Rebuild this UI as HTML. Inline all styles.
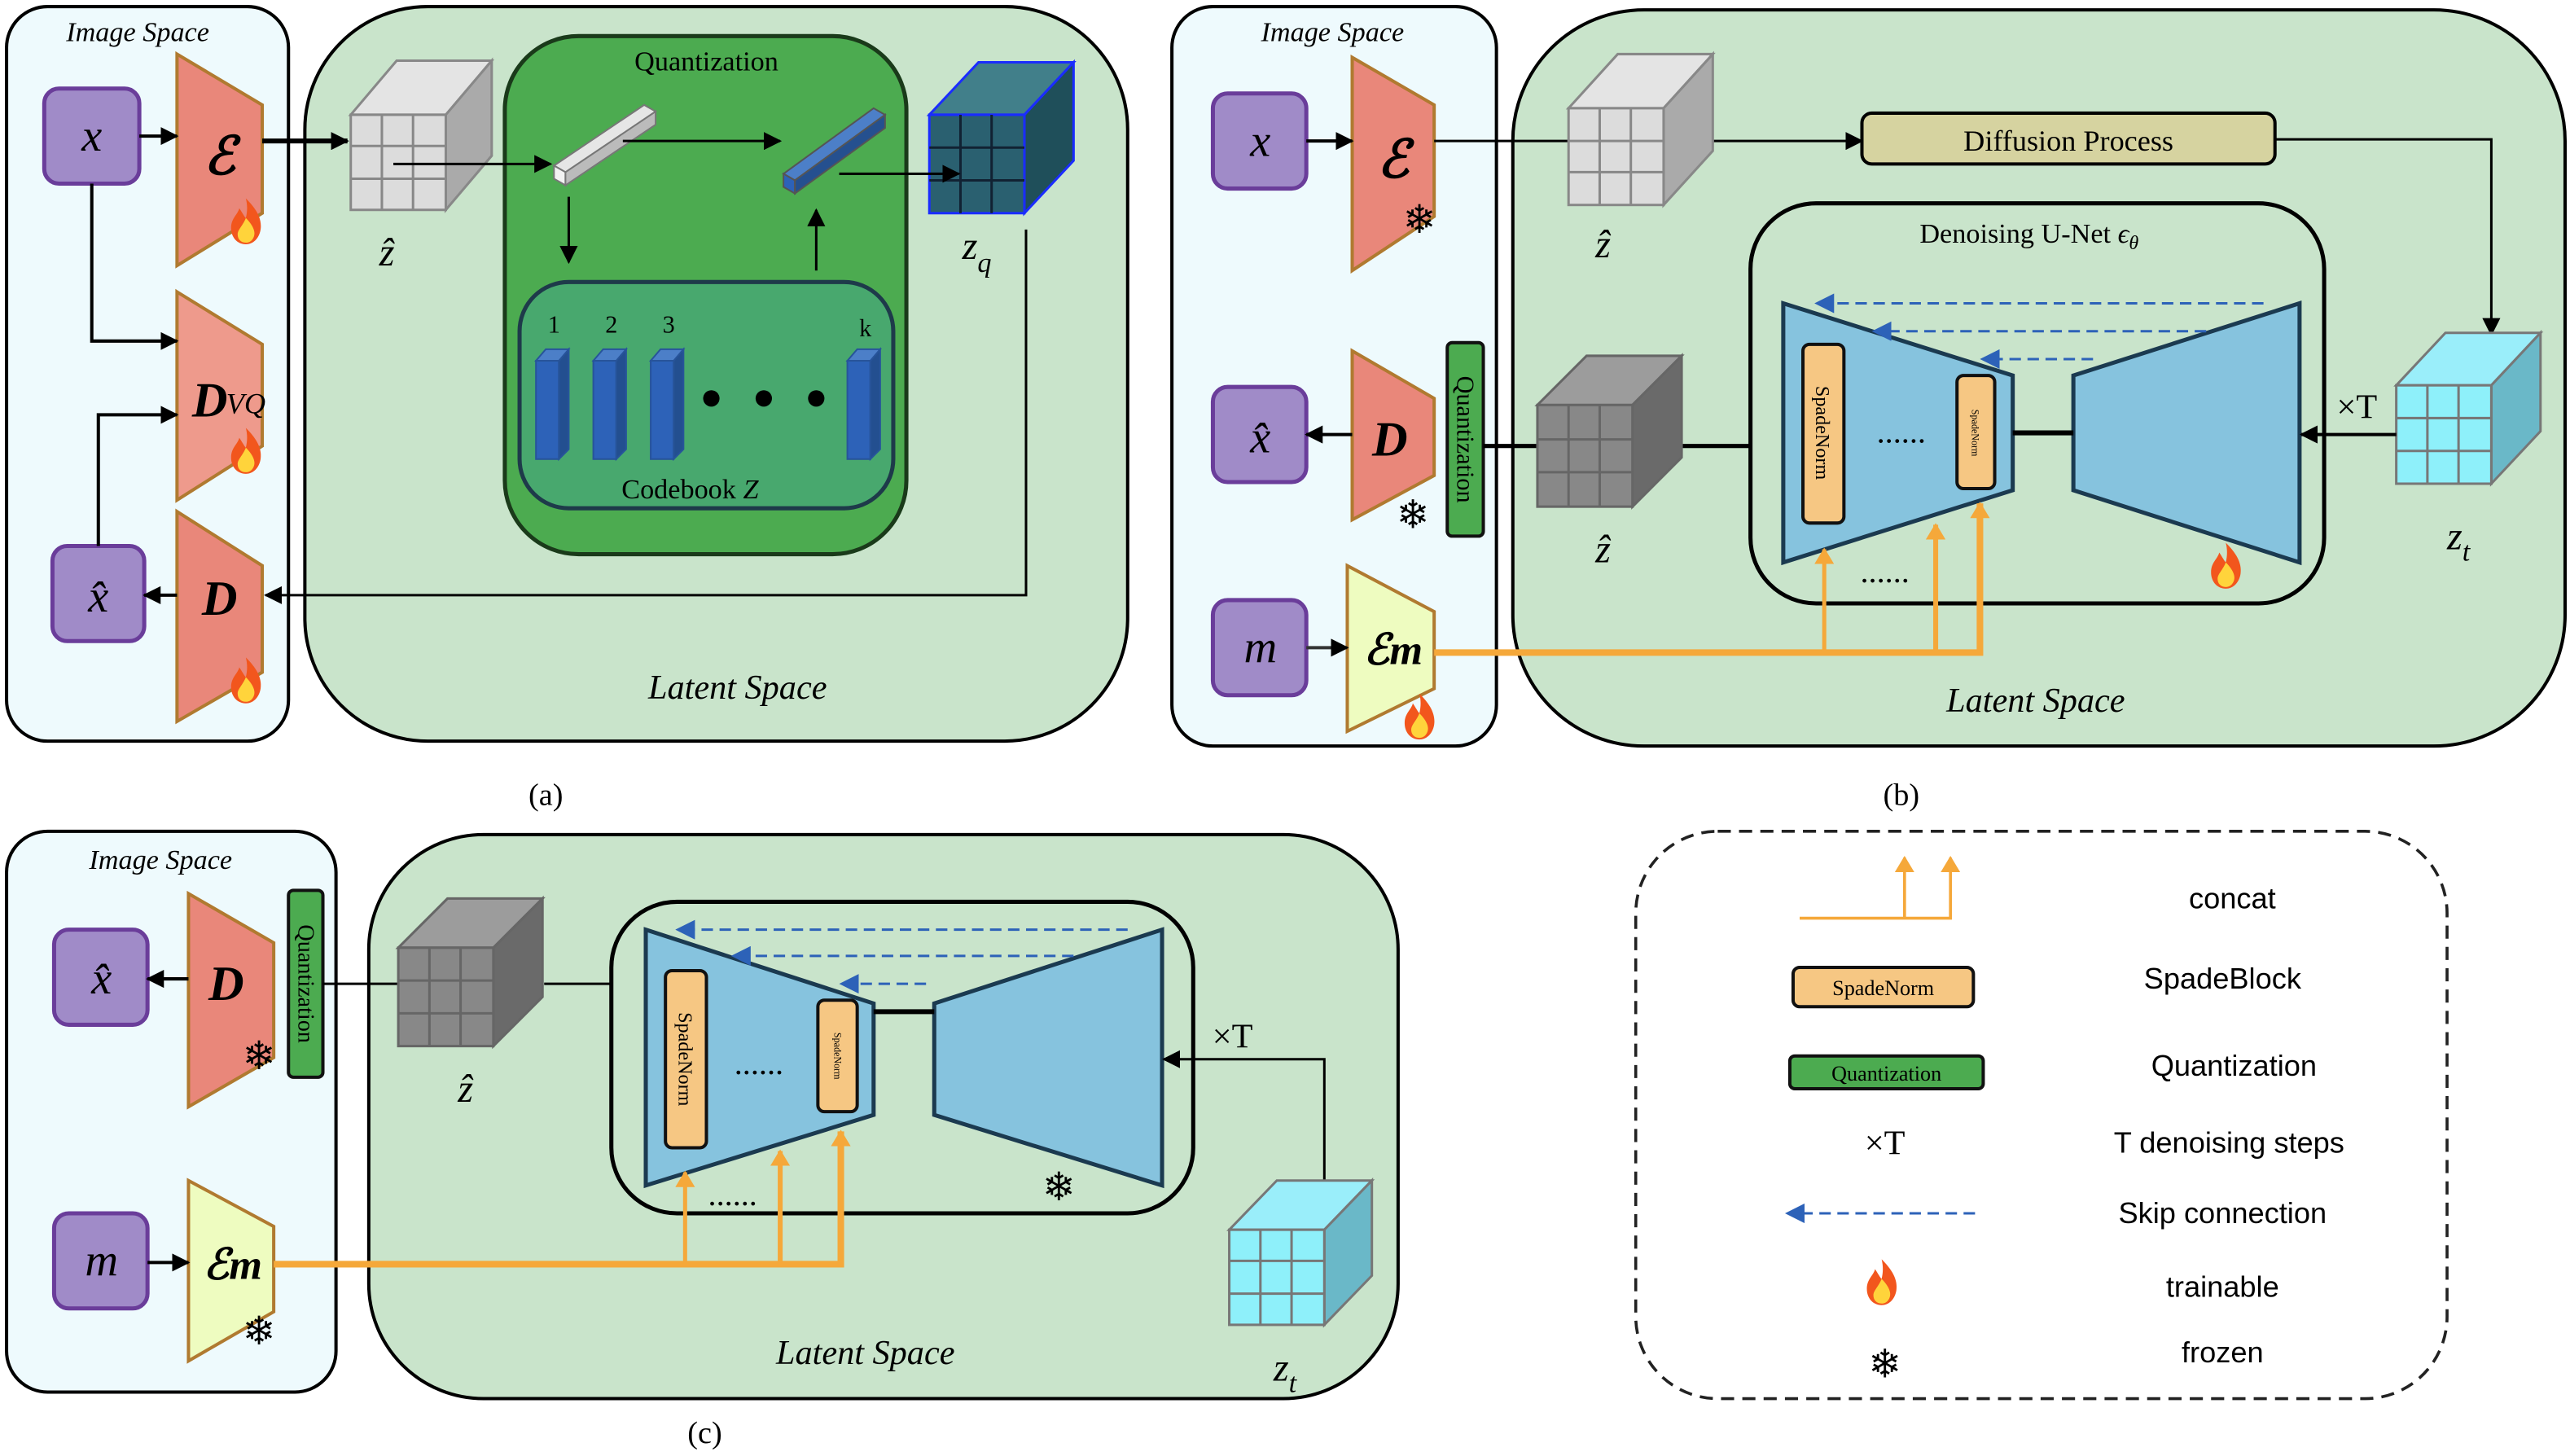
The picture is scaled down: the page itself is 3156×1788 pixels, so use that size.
<!DOCTYPE html>
<html><head><meta charset="utf-8"><style>
html,body{margin:0;padding:0;background:#fff}
svg{display:block}
text{font-family:"Liberation Serif",serif}
.s{font-family:"Liberation Sans",sans-serif}
</style></head><body>
<svg width="3156" height="1788" viewBox="0 0 1568 888" preserveAspectRatio="none" xmlns="http://www.w3.org/2000/svg">
<defs>
<marker id="ah" markerWidth="11" markerHeight="11" refX="10" refY="5.5" orient="auto" markerUnits="userSpaceOnUse"><path d="M0,0 L11,5.5 L0,11 z" fill="#000"/></marker>
<marker id="ao" markerWidth="10" markerHeight="12" refX="9" refY="6" orient="auto" markerUnits="userSpaceOnUse"><path d="M0,0 L10,6 L0,12 z" fill="#f5a83a"/></marker>
<marker id="ab" markerWidth="12" markerHeight="12" refX="2" refY="6" orient="auto-start-reverse" markerUnits="userSpaceOnUse"><path d="M0,0 L12,6 L0,12 z" fill="#2d62b8"/></marker>
<g id="fire"><path d="M0,-14 C6,-8 10,-2 9,5 C8,11 4,14 0,14 C-5,14 -9,10 -9,4 C-9,-2 -5,-4 -4,-8 C-2,-5 -1,-3 0,-2 C1,-6 1,-10 0,-14z" fill="#f2561d"/><path d="M0,-2 C4,2 6,6 5,9 C4,12 2,13 0,13 C-3,13 -5,11 -5,8 C-5,5 -2,3 0,-2z" fill="#ffd43b"/></g>
</defs>
<rect width="1568" height="888" fill="#fff"/>

<!-- ===== (a) ===== -->
<rect x="4" y="4" width="172" height="448" rx="25" fill="#eefafd" stroke="#000" stroke-width="2"/>
<rect x="186" y="4" width="502" height="448" rx="75" fill="#c9e4cb" stroke="#000" stroke-width="2"/>
<text x="84" y="25" font-size="17" font-style="italic" text-anchor="middle">Image Space</text>
<rect x="27" y="54" width="58" height="58" rx="9" fill="#a08bc8" stroke="#6a3d9a" stroke-width="2.5"/>
<text x="56" y="92" font-size="28" font-style="italic" text-anchor="middle">x</text>
<polygon points="108,33 160,64 160,130 108,162" fill="#e9877a" stroke="#b07a30" stroke-width="2"/>
<text x="134" y="106" font-size="32" font-weight="bold" font-style="italic" text-anchor="middle">ℰ</text>
<use href="#fire" x="150" y="135"/>
<polygon points="108,178 160,210 160,272 108,305" fill="#ee9a8c" stroke="#b07a30" stroke-width="2"/>
<text x="128" y="254" font-size="30" font-weight="bold" font-style="italic" text-anchor="middle">D</text>
<text x="150" y="252" font-size="18" font-style="italic" text-anchor="middle">VQ</text>
<use href="#fire" x="150" y="275"/>
<polygon points="108,312 160,345 160,410 108,440" fill="#e9877a" stroke="#b07a30" stroke-width="2"/>
<text x="134" y="375" font-size="30" font-weight="bold" font-style="italic" text-anchor="middle">D</text>
<use href="#fire" x="150" y="415"/>
<rect x="32" y="333" width="56" height="58" rx="9" fill="#a08bc8" stroke="#6a3d9a" stroke-width="2.5"/>
<text x="60" y="373" font-size="28" font-style="italic" text-anchor="middle">x̂</text>
<g stroke="#000" stroke-width="2" fill="none">
<line x1="85" y1="83" x2="108" y2="83" marker-end="url(#ah)"/>
<line x1="160" y1="86" x2="212" y2="86" stroke-width="3" marker-end="url(#ah)"/>
<polyline points="56,112 56,208 108,208" marker-end="url(#ah)"/>
<polyline points="60,333 60,253 108,253" marker-end="url(#ah)"/>
<line x1="108" y1="363" x2="88" y2="363" marker-end="url(#ah)"/>
<polyline points="626,140 626,363 162,363" stroke-width="1.5" marker-end="url(#ah)"/>
</g>
<g stroke="#888" stroke-width="1.5">
<polygon points="214,70 242,37 300,37 272,70" fill="#e4e4e4"/>
<polygon points="272,70 300,37 300,95 272,128" fill="#aaa"/>
<rect x="214" y="70" width="58" height="58" fill="#dcdcdc"/>
<path d="M233,70V128M252,70V128M214,89H272M214,109H272" fill="none"/>
</g>
<text x="236" y="162" font-size="24" font-style="italic" text-anchor="middle">ẑ</text>
<rect x="308" y="22" width="245" height="316" rx="45" fill="#4cab50" stroke="#1a3a1a" stroke-width="2.5"/>
<text x="431" y="43" font-size="17" text-anchor="middle">Quantization</text>
<polygon points="338,101 393,64 400,68 345,105" fill="#e6e6e6" stroke="#777"/>
<polygon points="338,101 345,105 345,113 338,109" fill="#f2f2f2" stroke="#777"/>
<polygon points="345,105 400,68 400,76 345,113" fill="#bbb" stroke="#777"/>
<polygon points="478,106 533,66 540,70 485,110" fill="#4c7fc8" stroke="#555"/>
<polygon points="478,106 485,110 485,118 478,114" fill="#2d62b8" stroke="#555"/>
<polygon points="485,110 540,70 540,78 485,118" fill="#25508f" stroke="#555"/>
<g stroke="#000" stroke-width="1.5" fill="none">
<line x1="240" y1="100" x2="336" y2="100" marker-end="url(#ah)"/>
<line x1="380" y1="86" x2="476" y2="86" marker-end="url(#ah)"/>
<line x1="347" y1="120" x2="347" y2="160" marker-end="url(#ah)"/>
<line x1="498" y1="165" x2="498" y2="128" marker-end="url(#ah)"/>
</g>
<rect x="317" y="172" width="228" height="138" rx="30" fill="#48a86e" stroke="#1e3a4a" stroke-width="2.5"/>
<g font-size="15" text-anchor="middle"><text x="338" y="203">1</text><text x="373" y="203">2</text><text x="408" y="203">3</text><text x="528" y="205">k</text></g>
<g fill="#2d62b8" stroke="#27549a">
<rect x="327" y="220" width="14" height="60"/><polygon points="341,220 347,213 347,274 341,280" fill="#234f90"/><polygon points="327,220 333,213 347,213 341,220" fill="#4c7fc8"/>
<rect x="362" y="220" width="14" height="60"/><polygon points="376,220 382,213 382,274 376,280" fill="#234f90"/><polygon points="362,220 368,213 382,213 376,220" fill="#4c7fc8"/>
<rect x="397" y="220" width="14" height="60"/><polygon points="411,220 417,213 417,274 411,280" fill="#234f90"/><polygon points="397,220 403,213 417,213 411,220" fill="#4c7fc8"/>
<rect x="517" y="220" width="14" height="60"/><polygon points="531,220 537,213 537,274 531,280" fill="#234f90"/><polygon points="517,220 523,213 537,213 531,220" fill="#4c7fc8"/>
</g>
<circle cx="434" cy="243" r="5"/><circle cx="466" cy="243" r="5"/><circle cx="498" cy="243" r="5"/>
<text x="421" y="304" font-size="17" text-anchor="middle">Codebook <tspan font-style="italic">Z</tspan></text>
<g stroke="#1a2cff" stroke-width="1.5">
<polygon points="567,70 597,38 655,38 625,70" fill="#417f8a"/>
<polygon points="625,70 655,38 655,98 625,130" fill="#1f4f5a"/>
<rect x="567" y="70" width="58" height="60" fill="#2a6070"/>
<path d="M586,70V130M605,70V130M567,90H625M567,110H625" stroke="#123" fill="none"/>
</g>
<line x1="512" y1="106" x2="585" y2="106" stroke="#000" stroke-width="1.5" marker-end="url(#ah)"/>
<text x="596" y="158" font-size="24" font-style="italic" text-anchor="middle">z<tspan font-size="17" dy="8">q</tspan></text>
<text x="450" y="426" font-size="21" font-style="italic" text-anchor="middle">Latent Space</text>
<text x="333" y="491" font-size="19" text-anchor="middle">(a)</text>

<!-- ===== (b) ===== -->
<rect x="923" y="6" width="642" height="449" rx="80" fill="#c9e4cb" stroke="#000" stroke-width="2"/>
<rect x="715" y="4" width="198" height="451" rx="25" fill="#eefafd" stroke="#000" stroke-width="2"/>
<text x="813" y="25" font-size="17" font-style="italic" text-anchor="middle">Image Space</text>
<rect x="740" y="57" width="57" height="58" rx="9" fill="#a08bc8" stroke="#6a3d9a" stroke-width="2.5"/>
<text x="769" y="95" font-size="28" font-style="italic" text-anchor="middle">x</text>
<polygon points="825,35 875,64 875,132 825,165" fill="#e9877a" stroke="#b07a30" stroke-width="2"/>
<text x="850" y="108" font-size="32" font-weight="bold" font-style="italic" text-anchor="middle">ℰ</text>
<text x="866" y="142" font-size="24" text-anchor="middle">❄</text>
<rect x="740" y="236" width="57" height="58" rx="9" fill="#a08bc8" stroke="#6a3d9a" stroke-width="2.5"/>
<text x="769" y="276" font-size="28" font-style="italic" text-anchor="middle">x̂</text>
<polygon points="825,214 875,243 875,290 825,317" fill="#e9877a" stroke="#b07a30" stroke-width="2"/>
<text x="848" y="278" font-size="30" font-weight="bold" font-style="italic" text-anchor="middle">D</text>
<text x="862" y="322" font-size="24" text-anchor="middle">❄</text>
<rect x="883" y="209" width="22" height="118" rx="3" fill="#4cab50" stroke="#111" stroke-width="2"/>
<text transform="translate(889,268) rotate(90)" font-size="15" text-anchor="middle">Quantization</text>
<rect x="740" y="366" width="57" height="58" rx="9" fill="#a08bc8" stroke="#6a3d9a" stroke-width="2.5"/>
<text x="769" y="404" font-size="28" font-style="italic" text-anchor="middle">m</text>
<polygon points="822,345 875,373 875,420 822,446" fill="#eefcc0" stroke="#b07a30" stroke-width="2"/>
<text x="850" y="405" font-size="26" font-weight="bold" font-style="italic" text-anchor="middle">ℰm</text>
<use href="#fire" x="866" y="437"/>
<g stroke="#000" stroke-width="2" fill="none">
<line x1="797" y1="86" x2="825" y2="86" marker-end="url(#ah)"/>
<line x1="875" y1="86" x2="1136" y2="86" stroke-width="1.5" marker-end="url(#ah)"/>
<polyline points="1388,85 1520,85 1520,204" stroke-width="1.5" marker-end="url(#ah)"/>
<line x1="825" y1="265" x2="797" y2="265" marker-end="url(#ah)"/>
<line x1="797" y1="395" x2="822" y2="395" stroke="#333" marker-end="url(#ah)"/>
<line x1="905" y1="272" x2="940" y2="272" stroke-width="2.5"/>
<line x1="995" y1="272" x2="1088" y2="272" stroke-width="2.5"/>
</g>
<g stroke="#888" stroke-width="1.5">
<polygon points="957,66 987,33 1045,33 1015,66" fill="#e4e4e4"/>
<polygon points="1015,66 1045,33 1045,92 1015,125" fill="#aaa"/>
<rect x="957" y="66" width="58" height="59" fill="#dcdcdc"/>
<path d="M976,66V125M995,66V125M957,86H1015M957,105H1015" fill="none"/>
</g>
<text x="978" y="157" font-size="24" font-style="italic" text-anchor="middle">ẑ</text>
<g stroke="#666" stroke-width="1.5">
<polygon points="938,247 968,217 1026,217 996,247" fill="#9c9c9c"/>
<polygon points="996,247 1026,217 1026,279 996,309" fill="#6a6a6a"/>
<rect x="938" y="247" width="58" height="62" fill="#888"/>
<path d="M957,247V309M976,247V309M938,268H996M938,288H996" fill="none"/>
</g>
<text x="978" y="343" font-size="24" font-style="italic" text-anchor="middle">ẑ</text>
<rect x="1136" y="69" width="252" height="31" rx="6" fill="#d6d3a0" stroke="#000" stroke-width="2"/>
<text x="1262" y="92" font-size="18" text-anchor="middle">Diffusion Process</text>
<g stroke="#777" stroke-width="1.5">
<polygon points="1462,235 1492,203 1550,203 1520,235" fill="#9aeefa"/>
<polygon points="1520,235 1550,203 1550,263 1520,295" fill="#6ab8c8"/>
<rect x="1462" y="235" width="58" height="60" fill="#8ef0fa"/>
<path d="M1481,235V295M1500,235V295M1462,255H1520M1462,275H1520" fill="none"/>
</g>
<text x="1500" y="335" font-size="24" font-style="italic" text-anchor="middle">z<tspan font-size="17" dy="7">t</tspan></text>
<text x="1438" y="255" font-size="21" text-anchor="middle">×T</text>
<rect x="1068" y="124" width="350" height="244" rx="40" fill="#c9e4cb" stroke="#000" stroke-width="2.5"/>
<text x="1238" y="148" font-size="17" text-anchor="middle">Denoising U-Net <tspan font-style="italic">ϵ</tspan><tspan font-size="12" font-style="italic" dy="4">θ</tspan></text>
<polygon points="1088,185 1228,229 1228,299 1088,343" fill="#86c3de" stroke="#1b3a50" stroke-width="2.5"/>
<polygon points="1265,229 1403,185 1403,343 1265,299" fill="#86c3de" stroke="#1b3a50" stroke-width="2.5"/>
<line x1="1462" y1="265" x2="1404" y2="265" stroke="#000" stroke-width="2" marker-end="url(#ah)"/>
<line x1="1228" y1="264" x2="1265" y2="264" stroke="#000" stroke-width="3"/>
<rect x="1100" y="210" width="25" height="109" rx="4" fill="#f6c783" stroke="#111" stroke-width="2"/>
<text transform="translate(1108,264) rotate(90)" font-size="12" text-anchor="middle">SpadeNorm</text>
<rect x="1194" y="229" width="23" height="69" rx="4" fill="#f6c783" stroke="#111" stroke-width="2"/>
<text transform="translate(1203,264) rotate(90)" font-size="6" text-anchor="middle">SpadeNorm</text>
<text x="1160" y="270" font-size="20" text-anchor="middle">......</text>
<text x="1150" y="355" font-size="20" text-anchor="middle">......</text>
<g stroke="#2d62b8" stroke-width="1.5" stroke-dasharray="7,4" fill="none">
<line x1="1381" y1="185" x2="1117" y2="185" marker-end="url(#ab)"/>
<line x1="1346" y1="202" x2="1152" y2="202" marker-end="url(#ab)"/>
<line x1="1277" y1="219" x2="1218" y2="219" marker-end="url(#ab)"/>
</g>
<use href="#fire" x="1358" y="345"/>
<g stroke="#f5a83a" stroke-width="4" fill="none">
<polyline points="875,398 1208,398 1208,307" marker-end="url(#ao)"/>
<line x1="1113" y1="398" x2="1113" y2="335" stroke-width="2.5" marker-end="url(#ao)"/>
<line x1="1181" y1="398" x2="1181" y2="320" stroke-width="3" marker-end="url(#ao)"/>
</g>
<text x="1242" y="434" font-size="21" font-style="italic" text-anchor="middle">Latent Space</text>
<text x="1160" y="491" font-size="19" text-anchor="middle">(b)</text>

<!-- ===== (c) ===== -->
<rect x="4" y="507" width="201" height="342" rx="25" fill="#eefafd" stroke="#000" stroke-width="2"/>
<rect x="225" y="509" width="628" height="344" rx="70" fill="#c9e4cb" stroke="#000" stroke-width="2"/>
<text x="98" y="530" font-size="17" font-style="italic" text-anchor="middle">Image Space</text>
<rect x="33" y="567" width="57" height="58" rx="9" fill="#a08bc8" stroke="#6a3d9a" stroke-width="2.5"/>
<text x="62" y="606" font-size="28" font-style="italic" text-anchor="middle">x̂</text>
<polygon points="115,545 167,575 167,645 115,675" fill="#e9877a" stroke="#b07a30" stroke-width="2"/>
<text x="138" y="610" font-size="30" font-weight="bold" font-style="italic" text-anchor="middle">D</text>
<text x="158" y="652" font-size="24" text-anchor="middle">❄</text>
<rect x="176" y="543" width="21" height="114" rx="3" fill="#4cab50" stroke="#111" stroke-width="2"/>
<text transform="translate(182,600) rotate(90)" font-size="14" text-anchor="middle">Quantization</text>
<rect x="33" y="740" width="57" height="58" rx="9" fill="#a08bc8" stroke="#6a3d9a" stroke-width="2.5"/>
<text x="62" y="778" font-size="28" font-style="italic" text-anchor="middle">m</text>
<polygon points="115,720 167,748 167,800 115,830" fill="#eefcc0" stroke="#b07a30" stroke-width="2"/>
<text x="142" y="780" font-size="26" font-weight="bold" font-style="italic" text-anchor="middle">ℰm</text>
<text x="158" y="820" font-size="24" text-anchor="middle">❄</text>
<g stroke="#000" stroke-width="2" fill="none">
<line x1="115" y1="597" x2="90" y2="597" marker-end="url(#ah)"/>
<line x1="90" y1="770" x2="115" y2="770" marker-end="url(#ah)"/>
<line x1="197" y1="600" x2="243" y2="600" stroke-width="1.5"/>
<line x1="332" y1="600" x2="372" y2="600" stroke-width="1.5"/>
</g>
<g stroke="#666" stroke-width="1.5">
<polygon points="243,578 273,548 331,548 301,578" fill="#9c9c9c"/>
<polygon points="301,578 331,548 331,608 301,638" fill="#6a6a6a"/>
<rect x="243" y="578" width="58" height="60" fill="#888"/>
<path d="M262,578V638M281,578V638M243,598H301M243,618H301" fill="none"/>
</g>
<text x="284" y="672" font-size="24" font-style="italic" text-anchor="middle">ẑ</text>
<rect x="373" y="550" width="355" height="190" rx="40" fill="#c9e4cb" stroke="#000" stroke-width="2.5"/>
<polygon points="394,567 533,612 533,680 394,723" fill="#86c3de" stroke="#1b3a50" stroke-width="2.5"/>
<polygon points="570,612 709,567 709,723 570,680" fill="#86c3de" stroke="#1b3a50" stroke-width="2.5"/>
<polyline points="808,720 808,646 710,646" stroke="#000" stroke-width="1.5" fill="none" marker-end="url(#ah)"/>
<line x1="533" y1="617" x2="570" y2="617" stroke="#000" stroke-width="3"/>
<rect x="406" y="592" width="25" height="108" rx="4" fill="#f6c783" stroke="#111" stroke-width="2"/>
<text transform="translate(414,646) rotate(90)" font-size="12" text-anchor="middle">SpadeNorm</text>
<rect x="499" y="610" width="24" height="68" rx="4" fill="#f6c783" stroke="#111" stroke-width="2"/>
<text transform="translate(509,644) rotate(90)" font-size="6" text-anchor="middle">SpadeNorm</text>
<text x="463" y="655" font-size="20" text-anchor="middle">......</text>
<text x="447" y="735" font-size="20" text-anchor="middle">......</text>
<g stroke="#2d62b8" stroke-width="1.5" stroke-dasharray="7,4" fill="none">
<line x1="688" y1="567" x2="422" y2="567" marker-end="url(#ab)"/>
<line x1="655" y1="583" x2="456" y2="583" marker-end="url(#ab)"/>
<line x1="565" y1="600" x2="522" y2="600" marker-end="url(#ab)"/>
</g>
<text x="646" y="732" font-size="24" text-anchor="middle">❄</text>
<text x="752" y="639" font-size="21" text-anchor="middle">×T</text>
<g stroke="#777" stroke-width="1.5">
<polygon points="750,750 779,720 837,720 808,750" fill="#9aeefa"/>
<polygon points="808,750 837,720 837,778 808,808" fill="#6ab8c8"/>
<rect x="750" y="750" width="58" height="58" fill="#8ef0fa"/>
<path d="M769,750V808M788,750V808M750,769H808M750,789H808" fill="none"/>
</g>
<text x="784" y="842" font-size="24" font-style="italic" text-anchor="middle">z<tspan font-size="17" dy="7">t</tspan></text>
<g stroke="#f5a83a" stroke-width="4" fill="none">
<polyline points="167,771 513,771 513,690" marker-end="url(#ao)"/>
<line x1="418" y1="771" x2="418" y2="715" stroke-width="2.5" marker-end="url(#ao)"/>
<line x1="476" y1="771" x2="476" y2="702" stroke-width="3" marker-end="url(#ao)"/>
</g>
<text x="528" y="832" font-size="21" font-style="italic" text-anchor="middle">Latent Space</text>
<text x="430" y="880" font-size="19" text-anchor="middle">(c)</text>

<!-- ===== legend ===== -->
<rect x="998" y="507" width="495" height="346" rx="50" fill="#fff" stroke="#222" stroke-width="1.8" stroke-dasharray="8,5"/>
<g stroke="#f5a83a" stroke-width="1.8" fill="none">
<polyline points="1098,560 1190,560 1190,523" marker-end="url(#ao)"/>
<line x1="1162" y1="560" x2="1162" y2="523" marker-end="url(#ao)"/>
</g>
<text class="s" x="1362" y="554" font-size="18" text-anchor="middle">concat</text>
<rect x="1094" y="590" width="110" height="24" rx="4" fill="#f6c783" stroke="#111" stroke-width="2"/>
<text x="1149" y="607" font-size="13" text-anchor="middle">SpadeNorm</text>
<text class="s" x="1356" y="603" font-size="18" text-anchor="middle">SpadeBlock</text>
<rect x="1092" y="644" width="118" height="20" rx="3" fill="#4cab50" stroke="#111" stroke-width="2"/>
<text x="1151" y="659" font-size="13" text-anchor="middle">Quantization</text>
<text class="s" x="1363" y="656" font-size="18" text-anchor="middle">Quantization</text>
<text x="1150" y="704" font-size="21" text-anchor="middle">×T</text>
<text class="s" x="1360" y="703" font-size="18" text-anchor="middle">T denoising steps</text>
<line x1="1205" y1="740" x2="1099" y2="740" stroke="#2d62b8" stroke-width="1.5" stroke-dasharray="7,4" marker-end="url(#ab)"/>
<text class="s" x="1356" y="746" font-size="18" text-anchor="middle">Skip connection</text>
<use href="#fire" x="1148" y="782"/>
<text class="s" x="1356" y="791" font-size="18" text-anchor="middle">trainable</text>
<text x="1150" y="840" font-size="24" text-anchor="middle">❄</text>
<text class="s" x="1356" y="831" font-size="18" text-anchor="middle">frozen</text>
</svg>
</body></html>
